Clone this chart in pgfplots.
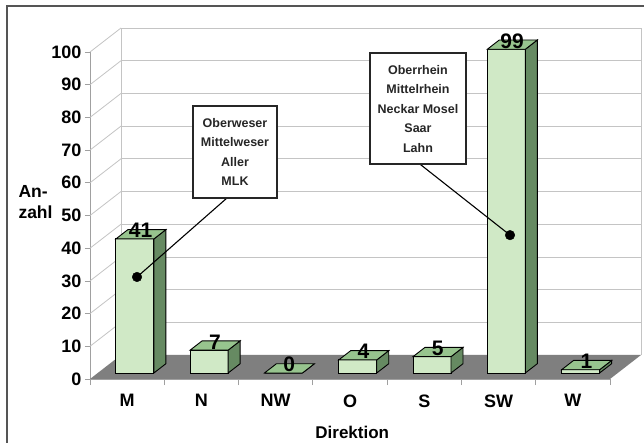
\documentclass[border=0pt]{standalone}
\usepackage{pgfplots}
\pgfplotsset{compat=1.18}
\usepackage{pgfplotstable}
\usepackage{fontspec}
\setmainfont{Liberation Sans}
\definecolor{barfront}{HTML}{D0E9C6}
\definecolor{barside}{HTML}{668A62}
\definecolor{bartop}{HTML}{97C48E}
\definecolor{floorgray}{HTML}{7F7F7F}
\definecolor{gridgray}{HTML}{C4C4C4}
\definecolor{axgray}{HTML}{A0A0A0}
\definecolor{framegray}{HTML}{555555}

\pgfplotstableread{
x y
0 41
1 7
2 0
3 4
4 5
5 99
6 1
}\datatable

% 3D bar drawn around the data point (top of the bar, front plane)
\pgfdeclareplotmark{bar3d}{%
  \pgfsetlinewidth{0.9pt}%
  \pgfsetstrokecolor{black}%
  % front face
  \pgfsetfillcolor{barfront}%
  \pgfpathmoveto{\pgfpoint{-11.25bp}{6bp-\barval*3.27bp}}%
  \pgfpathlineto{\pgfpoint{26.75bp}{6bp-\barval*3.27bp}}%
  \pgfpathlineto{\pgfpoint{26.75bp}{6bp}}%
  \pgfpathlineto{\pgfpoint{-11.25bp}{6bp}}%
  \pgfpathclose
  \pgfusepath{fill,stroke}%
  % side face
  \pgfsetfillcolor{barside}%
  \pgfpathmoveto{\pgfpoint{26.75bp}{6bp-\barval*3.27bp}}%
  \pgfpathlineto{\pgfpoint{26.75bp}{6bp}}%
  \pgfpathlineto{\pgfpoint{38.75bp}{15.3bp}}%
  \pgfpathlineto{\pgfpoint{38.75bp}{15.3bp-\barval*3.27bp}}%
  \pgfpathclose
  \pgfusepath{fill,stroke}%
  % top face
  \pgfsetfillcolor{bartop}%
  \pgfpathmoveto{\pgfpoint{-11.25bp}{6bp}}%
  \pgfpathlineto{\pgfpoint{26.75bp}{6bp}}%
  \pgfpathlineto{\pgfpoint{38.75bp}{15.3bp}}%
  \pgfpathlineto{\pgfpoint{0.75bp}{15.3bp}}%
  \pgfpathclose
  \pgfusepath{fill,stroke}%
}

\begin{document}
\begin{tikzpicture}
\useasboundingbox (0,0) rectangle (644bp,443bp);
\fill[white] (0,0) rectangle (644bp,443bp);
\draw[framegray, line width=1.5bp] (7bp,0) -- (7bp,437bp) -- (644bp,437bp);
\begin{axis}[
  at={(90bp,64bp)}, anchor=south west,
  width=520bp, height=327bp, scale only axis,
  xmin=-0.5, xmax=6.5, ymin=0, ymax=100,
  clip=false,
  axis x line*=bottom, axis y line*=left,
  axis line style={axgray, line width=0.8pt},
  tick align=outside,
  xtick={0,...,6},
  xticklabels={M,N,NW,O,S,SW,W},
  major x tick style={draw=none},
  minor xtick={-0.5,0.5,...,6.5},
  minor tick length=6bp,
  minor x tick style={axgray, line width=0.8pt},
  ytick={0,10,...,100},
  major tick length=5bp,
  y tick style={axgray, line width=0.8pt},
  /pgf/number format/assume math mode=true,
  xticklabel style={font=\fontsize{18bp}{18bp}\selectfont\bfseries, yshift=-7bp},
  yticklabel style={font=\fontsize{18bp}{18bp}\selectfont\bfseries},
  xlabel={Direktion},
  ylabel={An-\\zahl},
  every axis x label/.style={at={(axis cs:3.03,0)}, anchor=center, yshift=-53bp,
    font=\fontsize{17bp}{17bp}\selectfont\bfseries},
  every axis y label/.style={at={(axis cs:-0.5,54.1)}, anchor=west, xshift=-75bp,
    align=left, font=\fontsize{17.5bp}{21bp}\selectfont\bfseries},
]
% back wall grid lines and left-side diagonals
\pgfplotsinvokeforeach{10,20,...,100}{
  \draw[gridgray, line width=0.8pt] ([shift={(31bp,24bp)}]axis cs:-0.5,#1) -- ([shift={(31bp,24bp)}]axis cs:6.5,#1);
  \draw[gridgray, line width=0.8pt] (axis cs:-0.5,#1) -- ([shift={(31bp,24bp)}]axis cs:-0.5,#1);
}
\draw[gridgray, line width=0.8pt] ([shift={(31bp,24bp)}]axis cs:-0.5,0) -- ([shift={(31bp,24bp)}]axis cs:-0.5,100);
\draw[gridgray, line width=0.8pt] ([shift={(31bp,24bp)}]axis cs:6.5,0) -- ([shift={(31bp,24bp)}]axis cs:6.5,100);
% floor
\fill[floorgray] (axis cs:-0.5,0) -- (axis cs:6.5,0) -- ([shift={(31bp,24bp)}]axis cs:6.5,0) -- ([shift={(31bp,24bp)}]axis cs:-0.5,0) -- cycle;

% bars
\addplot[only marks, mark=bar3d,
  visualization depends on={\thisrow{y} \as \barval},
  nodes near coords,
  every node near coord/.append style={anchor=base, xshift=13.5bp, yshift=7bp,
    font=\fontsize{21bp}{21bp}\selectfont\bfseries, text=black},
] table[x=x, y=y] {\datatable};

% callout dots (on the bars)
\addplot[only marks, mark=*, mark size=4.8bp, black] coordinates {(0.133,31.2) (5.154,44.0)};

% anchor points of the callouts
\coordinate (b1) at (axis cs:1.344,55.35);
\coordinate (d1) at (axis cs:0.133,31.2);
\coordinate (c1) at (axis cs:1.452,69.4);
\coordinate (b2) at (axis cs:3.942,65.7);
\coordinate (d2) at (axis cs:5.154,44.0);
\coordinate (c2) at (axis cs:3.915,82.7);
\end{axis}
% callout lines and boxes, drawn above the bars
\draw[black, line width=1.1pt] (b1) -- (d1);
\draw[black, line width=1.1pt] (b2) -- (d2);
\node[draw=black!85, line width=1.4pt, fill=white, align=center,
  minimum width=84bp, minimum height=92bp, inner sep=0pt, text=black!85,
  font=\fontsize{12.5bp}{19.4bp}\selectfont\bfseries] at (c1)
  {Oberweser\\Mittelweser\\Aller\\MLK};
\node[draw=black!85, line width=1.4pt, fill=white, align=center,
  minimum width=96bp, minimum height=111bp, inner sep=0pt, text=black!85,
  font=\fontsize{12.5bp}{19.5bp}\selectfont\bfseries] at (c2)
  {Oberrhein\\Mittelrhein\\Neckar Mosel\\Saar\\Lahn};
\end{tikzpicture}
\end{document}
